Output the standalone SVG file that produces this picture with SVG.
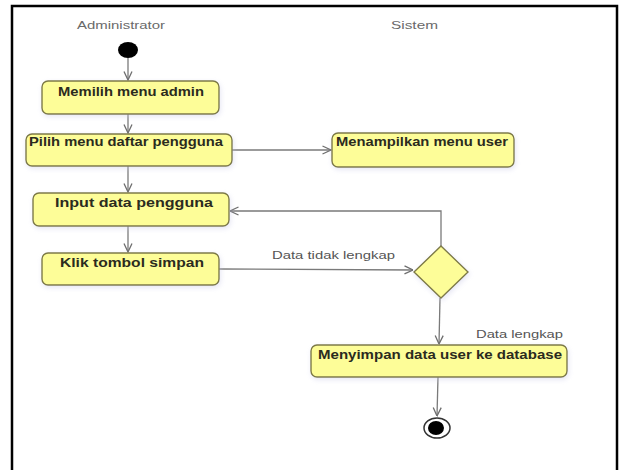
<svg xmlns="http://www.w3.org/2000/svg" width="622" height="470" viewBox="0 0 622 470">
  <defs>
    <marker id="open" viewBox="0 0 10 10" refX="9.5" refY="5" markerWidth="10" markerHeight="10" markerUnits="userSpaceOnUse" orient="auto">
      <path d="M1,1 L9.5,5 L1,9" fill="none" stroke="#6e6e6e" stroke-width="1.3"/>
    </marker>
    <filter id="halo" x="-10%" y="-30%" width="120%" height="160%">
      <feGaussianBlur in="SourceAlpha" stdDeviation="2.5"/>
      <feOffset dx="1" dy="2" result="b"/>
      <feFlood flood-color="#c8c8e6" flood-opacity="0.45"/>
      <feComposite in2="b" operator="in"/>
      <feMerge><feMergeNode/><feMergeNode in="SourceGraphic"/></feMerge>
    </filter>
  </defs>
  <style>
    .act { fill: #fdfd98; stroke: #7d7a45; stroke-width: 1.4; filter: url(#halo); }
    .lbl { font-family: "Liberation Sans", Arial, sans-serif; font-weight: bold; font-size: 12px; fill: #2b2b1e; }
    .lane { font-family: "Liberation Sans", Arial, sans-serif; font-size: 11px; fill: #6a6a6a; }
    .guard { font-family: "Liberation Sans", Arial, sans-serif; font-size: 11px; fill: #555555; }
    .flow { fill: none; stroke: #7a7a7a; stroke-width: 1.3; marker-end: url(#open); }
  </style>

  <rect width="622" height="470" fill="#ffffff"/>
  <!-- frame -->
  <rect x="12" y="6" width="605" height="480" fill="none" stroke="#000000" stroke-width="2.5"/>

  <!-- swimlane titles -->
  <text class="lane" x="77" y="29" textLength="88" lengthAdjust="spacingAndGlyphs">Administrator</text>
  <text class="lane" x="391" y="29" textLength="47" lengthAdjust="spacingAndGlyphs">Sistem</text>

  <g id="connectors">
    <path class="flow" d="M128,58 L128,80"/>
    <path class="flow" d="M128,114 L128,133"/>
    <path class="flow" d="M232,150 L331,150"/>
    <path class="flow" d="M128,166 L128,192"/>
    <path class="flow" d="M128,226 L128,252"/>
    <path class="flow" d="M219,269 L413,270"/>
    <path class="flow" d="M441,246 L441,211 L230,211"/>
    <path class="flow" d="M440,298 L439,344"/>
    <path class="flow" d="M438,377 L437,416"/>
    <text class="guard" x="272" y="259" textLength="123" lengthAdjust="spacingAndGlyphs">Data tidak lengkap</text>
    <text class="guard" x="476" y="338" textLength="87" lengthAdjust="spacingAndGlyphs">Data lengkap</text>
  </g>

  <g id="start">
    <ellipse cx="128" cy="50" rx="10" ry="8" fill="#000000"/>
  </g>

  <g id="memilih-menu-admin">
    <rect class="act" x="42" y="81" width="177" height="33" rx="6"/>
    <text class="lbl" x="58" y="96" textLength="146" lengthAdjust="spacingAndGlyphs">Memilih menu admin</text>
  </g>

  <g id="pilih-menu-daftar">
    <rect class="act" x="26" y="134" width="206" height="32" rx="6"/>
    <text class="lbl" x="29" y="146" textLength="194" lengthAdjust="spacingAndGlyphs">Pilih menu daftar pengguna</text>
  </g>

  <g id="menampilkan-menu-user">
    <rect class="act" x="332" y="133" width="182" height="34" rx="6"/>
    <text class="lbl" x="336" y="146" textLength="172" lengthAdjust="spacingAndGlyphs">Menampilkan menu user</text>
  </g>

  <g id="input-data-pengguna">
    <rect class="act" x="33" y="193" width="196" height="33" rx="6"/>
    <text class="lbl" x="55" y="207" textLength="158" lengthAdjust="spacingAndGlyphs">Input data pengguna</text>
  </g>

  <g id="klik-tombol-simpan">
    <rect class="act" x="42" y="253" width="177" height="32" rx="6"/>
    <text class="lbl" x="60" y="267" textLength="144" lengthAdjust="spacingAndGlyphs">Klik tombol simpan</text>
  </g>

  <g id="decision">
    <path class="act" d="M441,246 L468,272 L441,298 L414,272 Z"/>
  </g>

  <g id="menyimpan-data">
    <rect class="act" x="311" y="345" width="256" height="32" rx="6"/>
    <text class="lbl" x="318" y="359" textLength="244" lengthAdjust="spacingAndGlyphs">Menyimpan data user ke database</text>
  </g>

  <g id="end">
    <ellipse cx="437" cy="428" rx="13" ry="10" fill="#ffffff" stroke="#333333" stroke-width="1.5"/>
    <ellipse cx="436" cy="428" rx="8" ry="7" fill="#000000"/>
  </g>
</svg>
